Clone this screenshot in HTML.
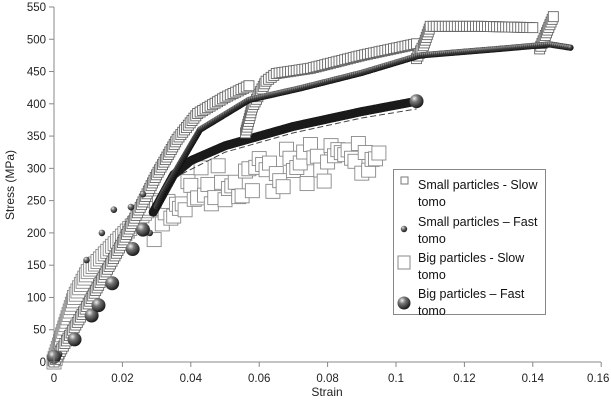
<!DOCTYPE html>
<html><head><meta charset="utf-8"><style>
html,body{margin:0;padding:0;background:#fff;width:611px;height:400px;overflow:hidden}
svg{display:block;font-family:"Liberation Sans",Arial,sans-serif}
</style></head><body>
<svg id="s" width="611" height="400" viewBox="0 0 611 400" xmlns="http://www.w3.org/2000/svg">
<defs>
<radialGradient id="sph" cx="0.35" cy="0.3" r="0.75">
<stop offset="0" stop-color="#f0f0f0"/><stop offset="0.35" stop-color="#777"/><stop offset="1" stop-color="#111"/>
</radialGradient>
<radialGradient id="sph2" cx="0.35" cy="0.3" r="0.75">
<stop offset="0" stop-color="#bbb"/><stop offset="0.4" stop-color="#444"/><stop offset="1" stop-color="#0a0a0a"/>
</radialGradient>
</defs>
<g id="plot"></g>
<g stroke="#888" stroke-width="1" fill="none">
<line x1="54" y1="7" x2="54" y2="362"/>
<line x1="54" y1="362" x2="601" y2="362"/>
</g>
<g id="ticks" stroke="#888"></g>
<g id="labels" font-size="11.5" fill="#222"></g>
<text x="327" y="396" font-size="12" text-anchor="middle" fill="#222">Strain</text>
<text transform="translate(14,185) rotate(-90)" font-size="12" text-anchor="middle" fill="#222">Stress (MPa)</text>
<rect x="393.5" y="169.5" width="152" height="145" fill="#fff" stroke="#888"/>
<g font-size="12.5" fill="#111">
<rect x="401" y="177" width="7" height="7" fill="#fff" stroke="#777"/>
<text x="418" y="189">Small particles - Slow</text><text x="418" y="206">tomo</text>
<circle cx="404" cy="229" r="3.2" fill="url(#sph)"/>
<text x="418" y="226">Small particles – Fast</text><text x="418" y="243">tomo</text>
<rect x="398" y="256" width="12" height="13" fill="#fff" stroke="#888"/>
<text x="418" y="262">Big particles - Slow</text><text x="418" y="279">tomo</text>
<circle cx="404" cy="303" r="6.5" fill="url(#sph)"/>
<text x="418" y="298">Big particles – Fast</text><text x="418" y="315">tomo</text>
</g>
</svg>
<script>
(function(){
var NS="http://www.w3.org/2000/svg";
var plot=document.getElementById('plot'),ticks=document.getElementById('ticks'),labels=document.getElementById('labels');
function px(x){return 54+x*3420;} function py(s){return 362-s*0.6455;}
function el(t,a,p){var e=document.createElementNS(NS,t);for(var k in a)e.setAttribute(k,a[k]);(p||plot).appendChild(e);return e;}
for(var v=0;v<=550;v+=50){var y=py(v);el('line',{x1:49,y1:y,x2:54,y2:y},ticks);var t=el('text',{x:46,y:y+4,'text-anchor':'end'},labels);t.textContent=v;}
var tl=['0','0.02','0.04','0.06','0.08','0.1','0.12','0.14','0.16'];
for(var i=0;i<=8;i++){var x=px(i*0.02);el('line',{x1:x,y1:362,x2:x,y2:367},ticks);var t=el('text',{x:(i==8?x-3:x),y:382,'text-anchor':'middle'},labels);t.textContent=tl[i];}
var seed=7;function rnd(){seed=(seed*16807)%2147483647;return seed/2147483647;}
function path(kp,step){var pts=[];for(var i=0;i<kp.length-1;i++){var a=kp[i],b=kp[i+1];var x1=px(a[0]),y1=py(a[1]),x2=px(b[0]),y2=py(b[1]);var d=Math.hypot(x2-x1,y2-y1),n=Math.max(1,Math.round(d/step));for(var j=0;j<n;j++){var f=j/n;pts.push([x1+(x2-x1)*f,y1+(y2-y1)*f]);}}var l=kp[kp.length-1];pts.push([px(l[0]),py(l[1])]);return pts;}
// big slow squares
var bs=path([[0,0],[0.006,100],[0.01,140],[0.02,195],[0.03,250],[0.04,292],[0.05,308],[0.06,318],[0.07,328],[0.08,338],[0.09,348],[0.095,352]],3.5);
bs.forEach(function(p,i){var jy=(p[0]>150)?(rnd()*45-5):0;el('rect',{x:p[0]-7,y:p[1]-7+jy,width:14,height:14,fill:'#fff',stroke:'#888','stroke-width':0.9});});
// dashed
var d=path([[0.035,285],[0.05,325],[0.07,355],[0.09,378],[0.106,392]],4);
el('polyline',{points:d.map(function(p){return p.join(',')}).join(' '),fill:'none',stroke:'#444','stroke-width':1,'stroke-dasharray':'6,3'});
// big fast dense band
var bf=path([[0.029,232],[0.035,290],[0.04,312],[0.05,335],[0.07,365],[0.09,388],[0.104,402]],1.5);
bf.forEach(function(p){el('circle',{cx:p[0],cy:p[1],r:4.5,fill:'#1a1a1a'});});
el('circle',{cx:px(0.106),cy:py(404),r:7,fill:'url(#sph)'});
// small slow squares
var ss=[[[0,0],[0.01,90],[0.02,185],[0.03,290],[0.036,345],[0.042,385],[0.05,410],[0.057,428]],
[[0.056,355],[0.058,395],[0.062,435],[0.065,447],[0.075,455],[0.09,475],[0.106,493]],
[[0.106,470],[0.108,490],[0.11,520],[0.125,520],[0.14,518]],
[[0.142,485],[0.144,510],[0.146,535]]];
ss.forEach(function(k){path(k,3).forEach(function(p){el('rect',{x:p[0]-5,y:p[1]-5,width:10,height:10,fill:'#fff',stroke:'#666','stroke-width':0.9});});});
// small fast spheres
var sf=path([[0.03,240],[0.032,263],[0.0427,360],[0.057,406],[0.072,424],[0.09,448],[0.107,475],[0.13,485],[0.145,492],[0.151,487]],2);
sf.forEach(function(p){el('circle',{cx:p[0],cy:p[1],r:3.2,fill:'url(#sph2)'});});
[[0.0015,12],[0.0095,158],[0.014,200],[0.0175,236],[0.0225,240],[0.026,260],[0.028,200]].forEach(function(q){el('circle',{cx:px(q[0]),cy:py(q[1]),r:3.3,fill:'url(#sph)'});});
[[0,8],[0.006,35],[0.011,72],[0.013,88],[0.017,122],[0.023,175],[0.026,205]].forEach(function(q){el('circle',{cx:px(q[0]),cy:py(q[1]),r:7,fill:'url(#sph)'});});
})();
</script>
</body></html>
